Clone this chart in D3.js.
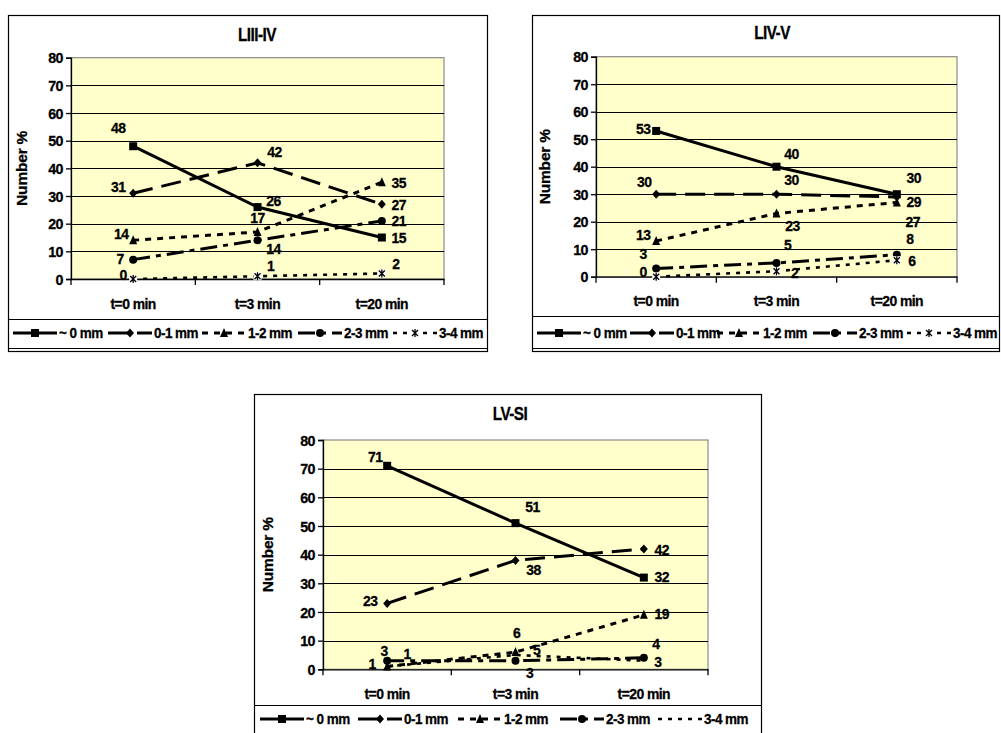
<!DOCTYPE html>
<html><head><meta charset="utf-8">
<script src="https://cdn.jsdelivr.net/npm/d3@7/dist/d3.min.js"></script>
<style>
body{margin:0;background:#fff}
svg{display:block}
text{font-family:"Liberation Sans",Arial,Helvetica,sans-serif;font-weight:bold;fill:#000;stroke:#000;stroke-width:0.3px}
</style>
</head><body>
<svg id="c" width="1001" height="733"></svg>
<script>
// ---------- DATA ----------
const categories = ["t=0 min", "t=3 min", "t=20 min"];
const seriesNames = ["~ 0 mm", "0-1 mm", "1-2 mm", "2-3 mm", "3-4 mm"];
const yTicks = [0, 10, 20, 30, 40, 50, 60, 70, 80];
const chartTitles = ["LIII-IV", "LIV-V", "LV-SI"];
// rows = series (~0, 0-1, 1-2, 2-3, 3-4 mm), columns = categories
const valuesLIII_IV = [[48, 26, 15], [31, 42, 27], [14, 17, 35], [7, 14, 21], [0, 1, 2]];
const valuesLIV_V   = [[53, 40, 30], [30, 30, 29], [13, 23, 27], [3, 5, 8], [0, 2, 6]];
const valuesLV_SI   = [[71, 51, 32], [23, 38, 42], [1, 6, 19], [3, 3, 4], [1, 5, 3]];

// ---------- STYLE / LAYOUT ----------
const seriesStyles = [
  {dash: null,          w: 3,   marker: "square"},
  {dash: "20,9",        w: 3,   marker: "diamond"},
  {dash: "6,6",         w: 3,   marker: "triangle"},
  {dash: "17,6,5,6",    w: 3,   marker: "circle"},
  {dash: "4,6",         w: 2.6, marker: "star"}
];
// [font-size, letter-spacing, horizontal scale]
const fonts = {
  title: [18, -0.6, 0.85], tick: [15.5, -0.6, 0.92], cat: [15, -0.6, 0.93], label: [15.5, -0.6, 0.9],
  legend: [15, -0.6, 0.9], ytitle: [15.5, -0.2, 1]
};
const layouts = [
  {frame: [8, 15, 487, 351], plot: [71, 57.7, 444, 279], legTop: 319, legBottom: 348, legY: 333,
   legX: [13, 108, 202, 298, 393], title: [257, 41], yTitleX: 22, noMarker: [],
   labelOff: [
     [[-15, -19], [16, -7], [17, 0]],
     [[-15, -7], [17, -11], [17, 0]],
     [[-12, -7], [0, -15], [17, 0]],
     [[-13, -1], [16, 8], [17, 0]],
     [[-10, -5], [13, -11], [14, -10]]]},
  {frame: [532, 15, 999, 351], plot: [596, 56.7, 957, 276.7], legTop: 316, legBottom: 348, legY: 333,
   legX: [537, 630, 717, 813, 907], title: [772, 39], yTitleX: 545, noMarker: [],
   labelOff: [
     [[-13, -3], [15, -13], [17, -17]],
     [[-12, -13], [15, -15], [17, 4]],
     [[-13, -7], [16, 12], [16, 19]],
     [[-13, -15], [11, -19], [13, -16]],
     [[-13, -5], [18, 1], [15, 0]]]},
  {frame: [254, 394, 761, 740], plot: [323, 440, 708, 669.3], legTop: 705, legBottom: 745, legY: 719,
   legX: [260, 358, 458, 560, 658], title: [510, 420], yTitleX: 268, noMarker: [4],
   labelOff: [
     [[-12, -9], [17, -17], [18, -1]],
     [[-17, -3], [18, 9], [18, 0]],
     [[-15, -3], [1, -20], [18, -1]],
     [[-3, -10], [14, 12], [12, -14]],
     [[20, -13], [21, -6], [14, 1]]]}
];
const allValues = [valuesLIII_IV, valuesLIV_V, valuesLV_SI];

const svg = d3.select("#c");

// places a text at (x,y) with font settings f, applying horizontal condensation
function putText(g, x, y, f, rotate) {
  const t = g.append("text")
    .attr("transform", `translate(${x},${y})${rotate ? " rotate(" + rotate + ")" : ""} scale(${f[2]},1)`)
    .attr("font-size", f[0]).attr("letter-spacing", f[1]);
  return t;
}

function drawMarker(g, type, x, y) {
  const s = 4;
  if (type === "square") {
    g.append("rect").attr("x", x - s).attr("y", y - s).attr("width", 2 * s).attr("height", 2 * s).attr("fill", "#000");
  } else if (type === "diamond") {
    g.append("path").attr("d", `M${x},${y - s - 0.5}L${x + s},${y}L${x},${y + s + 0.5}L${x - s},${y}Z`).attr("fill", "#000");
  } else if (type === "triangle") {
    g.append("path").attr("d", `M${x},${y - s - 1}L${x + s},${y + s}L${x - s},${y + s}Z`).attr("fill", "#000");
  } else if (type === "circle") {
    g.append("circle").attr("cx", x).attr("cy", y).attr("r", s).attr("fill", "#000");
  } else if (type === "star") {
    g.append("rect").attr("x", x - s).attr("y", y - s).attr("width", 2 * s).attr("height", 2 * s).attr("fill", "#fff");
    g.append("path").attr("d", `M${x - 3},${y - 3}L${x + 3},${y + 3}M${x + 3},${y - 3}L${x - 3},${y + 3}M${x},${y - 4}L${x},${y + 4}`)
      .attr("stroke", "#000").attr("stroke-width", 1.3).attr("fill", "none");
  }
}

function drawChart(idx) {
  const L = layouts[idx];
  const vals = allValues[idx];
  const g = svg.append("g");
  const [fx0, fy0, fx1, fy1] = L.frame;
  const [px0, py0, px1, py1] = L.plot;

  // frame
  g.append("rect").attr("x", fx0 + 0.5).attr("y", fy0 + 0.5).attr("width", fx1 - fx0).attr("height", fy1 - fy0)
    .attr("fill", "#fff").attr("stroke", "#000").attr("stroke-width", 1.2);

  // title
  putText(g, L.title[0], L.title[1], fonts.title).attr("text-anchor", "middle").text(chartTitles[idx]);

  const x = d3.scalePoint().domain(categories).range([px0, px1]).padding(0.5);
  const xb = d3.scaleBand().domain(categories).range([px0, px1]);
  const y = d3.scaleLinear().domain([0, 80]).range([py1, py0]);

  // plot area
  g.append("rect").attr("x", px0).attr("y", py0).attr("width", px1 - px0).attr("height", py1 - py0)
    .attr("fill", "#FFFFCC").attr("stroke", "#8a8a8a").attr("stroke-width", 1.2);
  // gridlines
  g.selectAll(".grid").data(yTicks.filter(t => t > 0 && t < 80)).enter().append("line")
    .attr("x1", px0).attr("x2", px1).attr("y1", d => Math.round(y(d)) + 0.5).attr("y2", d => Math.round(y(d)) + 0.5)
    .attr("stroke", "#000").attr("stroke-width", 1);

  // y axis (line + ticks via d3.axis, labels condensed)
  const yAxis = d3.axisLeft(y).tickValues(yTicks).tickSize(5).tickPadding(3);
  const ya = g.append("g").attr("transform", `translate(${px0},0)`).call(yAxis);
  ya.attr("font-family", null).attr("font-size", null);
  ya.select(".domain").attr("stroke", "#000").attr("stroke-width", 1.3);
  ya.selectAll(".tick line").attr("stroke", "#000").attr("stroke-width", 1.3);
  ya.selectAll(".tick text")
    .attr("x", null).attr("dy", "0.34em")
    .attr("transform", `translate(-8,0) scale(${fonts.tick[2]},1)`)
    .attr("font-size", fonts.tick[0]).attr("letter-spacing", fonts.tick[1]).attr("fill", "#000");

  // x axis
  const xAxis = d3.axisBottom(xb).tickSize(0).tickPadding(19);
  const xa = g.append("g").attr("transform", `translate(0,${y(0)})`).call(xAxis);
  xa.attr("font-family", null).attr("font-size", null);
  xa.select(".domain").attr("stroke", "#000").attr("stroke-width", 1.3);
  xa.selectAll(".tick text")
    .attr("transform", `scale(${fonts.cat[2]},1)`)
    .attr("font-size", fonts.cat[0]).attr("letter-spacing", fonts.cat[1]).attr("fill", "#000");
  // category boundary ticks
  const bounds = categories.map(c => xb(c)).concat([xb(categories[categories.length - 1]) + xb.bandwidth()]);
  xa.selectAll(".bt").data(bounds).enter().append("line")
    .attr("x1", d => d).attr("x2", d => d).attr("y1", 0).attr("y2", 6).attr("stroke", "#000").attr("stroke-width", 1.3);

  // y title
  putText(g, L.yTitleX, (py0 + py1) / 2, fonts.ytitle, -90)
    .attr("text-anchor", "middle").attr("dy", "0.35em").text("Number %");

  // series
  const line = d3.line().x((d, i) => x(categories[i])).y(d => y(d));
  vals.forEach((sv, si) => {
    const st = seriesStyles[si];
    const p = g.append("path").datum(sv).attr("d", line).attr("fill", "none").attr("stroke", "#000")
      .attr("stroke-width", st.w);
    if (st.dash) p.attr("stroke-dasharray", st.dash);
  });
  vals.forEach((sv, si) => {
    if (L.noMarker.includes(si)) return;
    sv.forEach((v, ci) => drawMarker(g, seriesStyles[si].marker, x(categories[ci]), y(v)));
  });
  // data labels
  vals.forEach((sv, si) => {
    sv.forEach((v, ci) => {
      const off = L.labelOff[si][ci];
      putText(g, x(categories[ci]) + off[0], y(v) + off[1], fonts.label)
        .attr("dy", "0.36em").attr("text-anchor", "middle").text(v);
    });
  });

  // legend box
  g.append("line").attr("x1", fx0).attr("x2", fx1).attr("y1", L.legTop + 0.5).attr("y2", L.legTop + 0.5)
    .attr("stroke", "#000").attr("stroke-width", 1);
  g.append("line").attr("x1", fx0).attr("x2", fx1).attr("y1", L.legBottom + 0.5).attr("y2", L.legBottom + 0.5)
    .attr("stroke", "#000").attr("stroke-width", 1);
  seriesNames.forEach((name, si) => {
    const st = seriesStyles[si];
    const lx = L.legX[si];
    const ln = g.append("line").attr("x1", lx).attr("x2", lx + 44).attr("y1", L.legY).attr("y2", L.legY)
      .attr("stroke", "#000").attr("stroke-width", st.w);
    if (st.dash) ln.attr("stroke-dasharray", st.dash);
    if (!L.noMarker.includes(si)) drawMarker(g, st.marker, lx + 22, L.legY);
    putText(g, lx + 46, L.legY + 5, fonts.legend).text(name);
  });
}

[0, 1, 2].forEach(drawChart);
</script>
</body></html>
